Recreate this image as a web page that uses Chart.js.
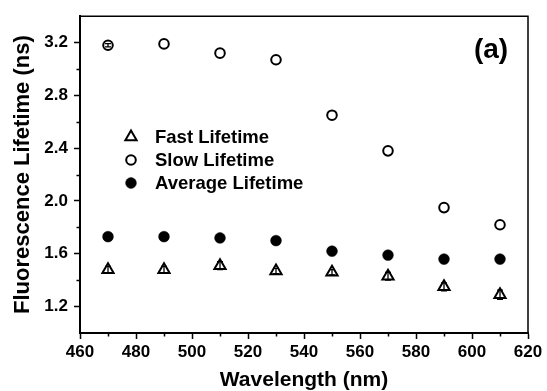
<!DOCTYPE html>
<html>
<head>
<meta charset="utf-8">
<script src="https://cdn.jsdelivr.net/npm/chart.js@4/dist/chart.umd.min.js"></script>
<style>
  html, body { margin: 0; padding: 0; background: #fff; }
  #wrap { width: 547px; height: 391px; position: relative; }
</style>
</head>
<body>
<div id="wrap"><canvas id="c" width="547" height="391"></canvas></div>
<script>
// Emission wavelength (nm)
const wavelength = [470, 490, 510, 530, 550, 570, 590, 610];
// Lifetime components (ns)
const fastLifetime = [1.48, 1.48, 1.51, 1.47, 1.46, 1.43, 1.35, 1.29];
const slowLifetime = [3.18, 3.19, 3.12, 3.07, 2.65, 2.38, 1.95, 1.82];
const avgLifetime  = [1.73, 1.73, 1.72, 1.70, 1.62, 1.59, 1.56, 1.56];
// Uncertainties (ns)
const fastErr = [0.025, 0.025, 0.03, 0.02, 0.02, 0.03, 0.03, 0.035];
const slowErr = [0.012, 0, 0, 0, 0, 0, 0, 0];
// Axis ticks
const xMajorTicks = [460, 480, 500, 520, 540, 560, 580, 600, 620];
const xMinorTicks = [470, 490, 510, 530, 550, 570, 590, 610];
const yMajorTicks = [1.2, 1.6, 2.0, 2.4, 2.8, 3.2];
const yMinorTicks = [1.4, 1.8, 2.2, 2.6, 3.0];
const seriesLabels = ['Fast Lifetime', 'Slow Lifetime', 'Average Lifetime'];

const FONT = '"Liberation Sans", Arial, Helvetica, sans-serif';
const toPoints = (ys) => wavelength.map((x, i) => ({ x: x, y: ys[i] }));

// error bars, minor ticks, frame, legend and panel tag
const decorations = {
  id: 'decorations',
  afterDatasetsDraw(chart) {
    const ctx = chart.ctx;
    const xs = chart.scales.x, ys = chart.scales.y;
    const sets = [[fastLifetime, fastErr], [slowLifetime, slowErr]];
    ctx.save();
    ctx.strokeStyle = '#000';
    ctx.lineWidth = 1.3;
    sets.forEach(([vals, errs]) => {
      vals.forEach((v, i) => {
        if (!errs[i]) return;
        const x = xs.getPixelForValue(wavelength[i]);
        const y1 = ys.getPixelForValue(v - errs[i]);
        const y2 = ys.getPixelForValue(v + errs[i]);
        ctx.beginPath();
        ctx.moveTo(x, y1); ctx.lineTo(x, y2);
        ctx.moveTo(x - 3, y1); ctx.lineTo(x + 3, y1);
        ctx.moveTo(x - 3, y2); ctx.lineTo(x + 3, y2);
        ctx.stroke();
      });
    });
    ctx.restore();
  },
  afterDraw(chart) {
    const ctx = chart.ctx;
    const a = chart.chartArea;
    const xs = chart.scales.x, ys = chart.scales.y;
    ctx.save();
    ctx.strokeStyle = '#000';
    // top and right frame
    ctx.lineWidth = 1.5;
    ctx.beginPath();
    ctx.moveTo(a.left, a.top); ctx.lineTo(a.right, a.top); ctx.lineTo(a.right, a.bottom);
    ctx.stroke();
    // minor ticks
    ctx.lineWidth = 1.5;
    ctx.beginPath();
    xMinorTicks.forEach(v => {
      const x = Math.round(xs.getPixelForValue(v)) + 0.5;
      ctx.moveTo(x, a.bottom); ctx.lineTo(x, a.bottom + 3.5);
    });
    yMinorTicks.forEach(v => {
      const y = Math.round(ys.getPixelForValue(v)) + 0.5;
      ctx.moveTo(a.left, y); ctx.lineTo(a.left - 3.5, y);
    });
    ctx.stroke();

    // legend
    const lx = 131, tx = 155, rows = [137, 160, 183];
    ctx.font = 'bold 18.5px ' + FONT;
    ctx.textBaseline = 'middle';
    ctx.fillStyle = '#000';
    chart.data.datasets.forEach((ds, i) => {
      ctx.save();
      ctx.strokeStyle = ds.borderColor;
      ctx.fillStyle = ds.backgroundColor;
      ctx.lineWidth = ds.borderWidth;
      Chart.helpers.drawPoint(ctx, {
        pointStyle: ds.pointStyle, radius: ds.pointRadius,
        rotation: 0, borderWidth: ds.borderWidth
      }, lx, rows[i]);
      ctx.restore();
      ctx.fillText(ds.label, tx, rows[i] + 1);
    });

    // panel tag
    ctx.font = 'bold 28px ' + FONT;
    ctx.textAlign = 'center';
    ctx.fillText('(a)', 491, 50);
    ctx.restore();
  }
};

new Chart(document.getElementById('c'), {
  type: 'scatter',
  data: {
    datasets: [
      {
        label: seriesLabels[0], data: toPoints(fastLifetime),
        pointStyle: 'triangle', pointRadius: 6.5, borderWidth: 2,
        borderColor: '#000', backgroundColor: 'rgba(0,0,0,0)'
      },
      {
        label: seriesLabels[1], data: toPoints(slowLifetime),
        pointStyle: 'circle', pointRadius: 4.8, borderWidth: 2,
        borderColor: '#000', backgroundColor: 'rgba(0,0,0,0)'
      },
      {
        label: seriesLabels[2], data: toPoints(avgLifetime),
        pointStyle: 'circle', pointRadius: 5.4, borderWidth: 0.5,
        borderColor: '#000', backgroundColor: '#000'
      }
    ]
  },
  options: {
    responsive: false,
    animation: false,
    layout: { padding: { top: 14, right: 19, left: 0, bottom: 0 } },
    plugins: { legend: { display: false }, tooltip: { enabled: false } },
    scales: {
      x: {
        type: 'linear', min: 460, max: 620,
        afterBuildTicks: (s) => { s.ticks = xMajorTicks.map(v => ({ value: v })); },
        afterFit: (s) => { s.height = 58; },
        grid: { display: true, drawOnChartArea: false, drawTicks: true, tickLength: 6, tickWidth: 1.5, tickColor: '#000' },
        border: { display: true, color: '#000', width: 2 },
        ticks: { color: '#000', padding: 3, maxRotation: 0, autoSkip: false,
                 font: { family: FONT, size: 17, weight: 'bold' } },
        title: { display: true, text: 'Wavelength (nm)', color: '#000',
                 padding: { top: 0, bottom: -2 },
                 font: { family: FONT, size: 21, weight: 'bold' } }
      },
      y: {
        type: 'linear', min: 1.0, max: 3.4,
        afterBuildTicks: (s) => { s.ticks = yMajorTicks.map(v => ({ value: v })); },
        afterFit: (s) => { s.width = 80; },
        grid: { display: true, drawOnChartArea: false, drawTicks: true, tickLength: 6, tickWidth: 1.5, tickColor: '#000' },
        border: { display: true, color: '#000', width: 2 },
        ticks: { color: '#000', padding: 6, autoSkip: false,
                 callback: (v) => Number(v).toFixed(1),
                 font: { family: FONT, size: 17, weight: 'bold' } },
        title: { display: true, text: 'Fluorescence Lifetime (ns)', color: '#000',
                 padding: { top: 10, bottom: 0 },
                 font: { family: FONT, size: 22, weight: 'bold' } }
      }
    }
  },
  plugins: [decorations]
});
</script>
</body>
</html>
